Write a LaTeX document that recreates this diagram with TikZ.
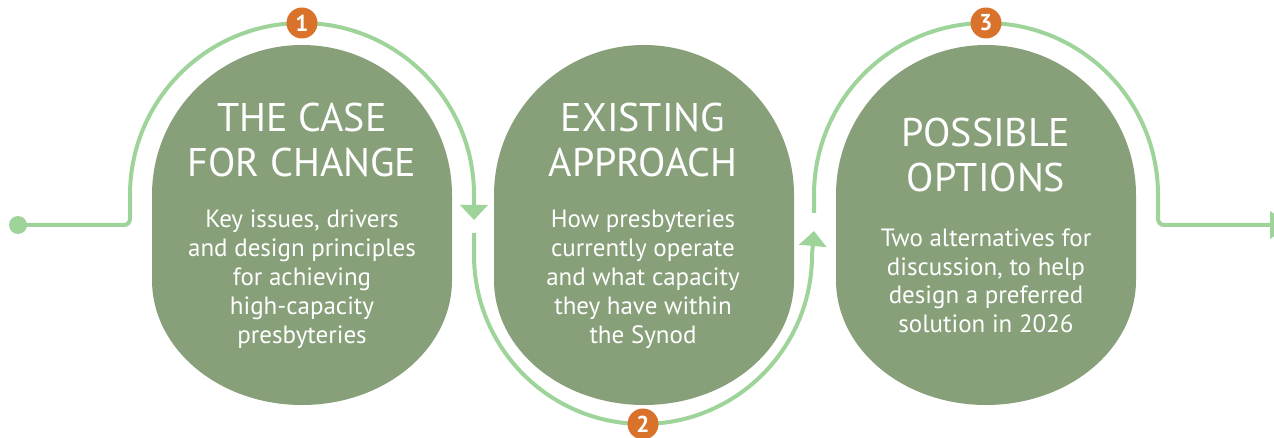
\documentclass[tikz,border=0pt]{standalone}
\usepackage{fontspec}
\setmainfont{PT Sans}
\usetikzlibrary{arrows.meta}
\definecolor{pill}{HTML}{87A079}
\definecolor{flow}{HTML}{9ED49A}
\definecolor{badge}{HTML}{D9722B}
\begin{document}
\begin{tikzpicture}[x=1pt,y=-1pt,
  flowline/.style={draw=flow,line width=4pt},
  pillshape/.style={fill=pill},
  title/.style={text=white,align=center,font=\fontsize{40}{45}\selectfont,inner sep=0pt,anchor=base},
  body/.style={text=white,align=center,font=\fontsize{25}{29}\selectfont,inner sep=0pt,anchor=base},
  badgenode/.style={circle,fill=badge,text=white,font=\bfseries\fontsize{23}{23}\selectfont,minimum size=31pt,inner sep=0pt},
  tip/.style={-{Triangle[width=27pt,length=15pt]}}
]
\useasboundingbox (0,0) rectangle (1274,438);

% pills
\path[pillshape] (152,195) arc[start angle=180,end angle=360,x radius=150,y radius=150]
  -- (452,280) arc[start angle=0,end angle=180,x radius=150,y radius=125] -- cycle;
\path[pillshape] (494,195) arc[start angle=180,end angle=360,x radius=150,y radius=150]
  -- (794,280) arc[start angle=0,end angle=180,x radius=150,y radius=125] -- cycle;
\path[pillshape] (836,195) arc[start angle=180,end angle=360,x radius=150,y radius=150]
  -- (1136,280) arc[start angle=0,end angle=180,x radius=150,y radius=125] -- cycle;

% flow
\node[circle,fill=flow,minimum size=18pt,inner sep=0pt] (dot) at (18,225) {};
\coordinate (d1) at (474,220);
\coordinate (s2) at (474,233);
\coordinate (u2) at (814,231);
\coordinate (s3) at (814,213);
\coordinate (fin) at (1290,225);

\draw[flowline,tip] (dot.center) [rounded corners=6pt] -- (130,225) [sharp corners] -- (130,195)
  arc[start angle=180,end angle=360,radius=172] -- (d1);
\draw[flowline,tip] (s2) -- (474,255)
  arc[start angle=180,end angle=0,radius=169] -- (u2);
\draw[flowline,-{Triangle[width=27pt,length=20pt]}] (s3) -- (814,195)
  arc[start angle=180,end angle=360,radius=172] [rounded corners=6pt] -- (1158,225) [sharp corners] -- (fin);

% badges
\node[badgenode] (b1) at (302,23) {1};
\node[badgenode] (b2) at (643,424) {2};
\node[badgenode] (b3) at (986,23) {3};

% texts (anchor base = baseline of the last line)
\node[title] (t1) at (302,177) {THE CASE\\FOR CHANGE};
\node[body] (k1) at (302,343) {Key issues, drivers\\and design principles\\for achieving\\high-capacity\\presbyteries};
\node[title] (t2) at (643,177) {EXISTING\\APPROACH};
\node[body] (k2) at (643,343) {How presbyteries\\currently operate\\and what capacity\\they have within\\the Synod};
\node[title] (t3) at (986,192) {POSSIBLE\\OPTIONS};
\node[body,font=\fontsize{25}{28.5}\selectfont] (k3) at (986,332) {Two alternatives for\\discussion, to help\\design a preferred\\solution in 2026};
\end{tikzpicture}
\end{document}
